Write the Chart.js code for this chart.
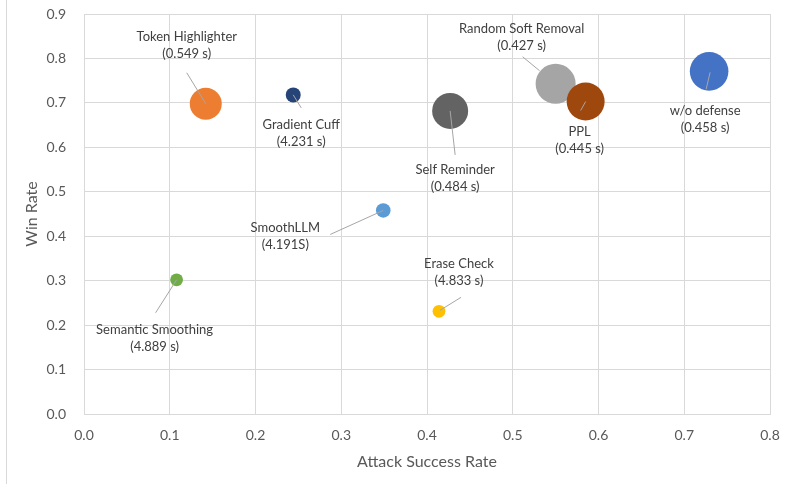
<!DOCTYPE html>
<html>
<head>
<meta charset="utf-8">
<script src="https://cdn.jsdelivr.net/npm/chart.js@4"></script>
<style>
  body { margin: 0; background: #fff; }
  #wrap { width: 785px; height: 484px; }
</style>
</head>
<body>
<div id="wrap"><canvas id="myChart" width="785" height="484"></canvas></div>
<script>
// defenses, drawn in this order (later ones sit on top)
const methods = ["Semantic Smoothing", "SmoothLLM", "Gradient Cuff", "Token Highlighter",
  "Self Reminder", "Random Soft Removal", "PPL", "w/o defense", "Erase Check"];
const times = ["4.889 s", "4.191S", "4.231 s", "0.549 s", "0.484 s", "0.427 s", "0.445 s", "0.458 s", "4.833 s"];
const attackSuccessRate = [0.108, 0.349, 0.244, 0.142, 0.427, 0.550, 0.585, 0.729, 0.414];
const winRate = [0.302, 0.458, 0.718, 0.698, 0.682, 0.743, 0.703, 0.771, 0.231];
const bubbleSize = [6.4, 7.3, 7.5, 16, 18, 20, 19, 19.3, 6.4];
const xTicks = [0, 0.1, 0.2, 0.3, 0.4, 0.5, 0.6, 0.7, 0.8];
const yTicks = [0, 0.1, 0.2, 0.3, 0.4, 0.5, 0.6, 0.7, 0.8, 0.9];

const colors = ["#70AD47", "#5B9BD5", "#264478", "#ED7D31", "#636363", "#A5A5A5", "#9E480E", "#4472C4", "#FFC000"];

// label placement: [label dx, label dy, leader start dx, dy, leader end dx, dy] in px from the bubble centre
const labelPos = [
  [-22, 50, -21, 33, 0, 0],
  [-98, 17, -53, 24, 0, 0],
  [8, 30, 8, 13, 0, 0],
  [-19, -67, -19, -31, 0, 0],
  [5, 59, 5, 44, 0, 0],
  [-34, -55, -33, -27, -16, -13],
  [-6, 30, -5, 9, 0, 0],
  [-4, 39, -3, 18, 1, 1],
  [20, -48, 22, -14, 1, -1],
];

const points = methods.map((m, i) => ({ x: attackSuccessRate[i], y: winRate[i] }));

const frameLine = {
  id: "frameLine",
  beforeDraw(chart) {
    const ctx = chart.ctx;
    ctx.save();
    ctx.fillStyle = "#fff";
    ctx.fillRect(0, 0, chart.width, chart.height);
    ctx.strokeStyle = "#d9d9d9";
    ctx.lineWidth = 1;
    ctx.beginPath();
    ctx.moveTo(6.5, 0);
    ctx.lineTo(6.5, chart.height);
    ctx.stroke();
    ctx.restore();
  },
};

const bubbleLabels = {
  id: "bubbleLabels",
  afterDatasetsDraw(chart) {
    const ctx = chart.ctx;
    const meta = chart.getDatasetMeta(0);
    ctx.save();
    meta.data.forEach((pt, i) => {
      const p = labelPos[i];
      ctx.strokeStyle = "#a6a6a6";
      ctx.lineWidth = 1;
      ctx.beginPath();
      ctx.moveTo(pt.x + p[2], pt.y + p[3]);
      ctx.lineTo(pt.x + p[4], pt.y + p[5]);
      ctx.stroke();

      ctx.fillStyle = "#404040";
      ctx.font = "13px Lato";
      ctx.textAlign = "center";
      ctx.textBaseline = "middle";
      ctx.fillText(methods[i], pt.x + p[0], pt.y + p[1]);
      ctx.fillText("(" + times[i] + ")", pt.x + p[0], pt.y + p[1] + 17);
    });
    ctx.restore();
  },
};

const ctx = document.getElementById("myChart").getContext("2d");
const myChart = new Chart(ctx, {
  type: "line",
  data: {
    datasets: [
      {
        label: "Defenses",
        data: points,
        showLine: false,
        pointRadius: bubbleSize,
        pointHoverRadius: bubbleSize,
        pointBackgroundColor: colors,
        backgroundColor: colors,
        borderWidth: 0,
        pointBorderWidth: 0,
        clip: false,
      },
    ],
  },
  options: {
    responsive: false,
    animation: false,
    layout: { padding: { left: 0, right: 15, top: 14, bottom: 0 } },
    plugins: {
      legend: { display: false },
      tooltip: { enabled: false },
    },
    scales: {
      x: {
        type: "linear",
        min: 0,
        max: 0.8,
        afterBuildTicks: (s) => { s.ticks = xTicks.map((v) => ({ value: v })); },
        afterFit: (s) => { s.height = 70; s.paddingLeft = 0; s.paddingRight = 0; },
        grid: { color: "#d9d9d9", drawTicks: false },
        border: { color: "#d9d9d9" },
        ticks: {
          padding: 13,
          color: "#595959",
          font: { family: "Lato", size: 14 },
          callback: (v) => Number(v).toFixed(1),
        },
        title: {
          display: true,
          text: "Attack Success Rate",
          color: "#595959",
          font: { family: "Lato", size: 16 },
          padding: { top: 0, bottom: 13 },
        },
      },
      y: {
        type: "linear",
        min: 0,
        max: 0.9,
        afterBuildTicks: (s) => { s.ticks = yTicks.map((v) => ({ value: v })); },
        afterFit: (s) => { s.width = 84; s.paddingTop = 0; s.paddingBottom = 0; },
        grid: { color: "#d9d9d9", drawTicks: false },
        border: { color: "#d9d9d9" },
        ticks: {
          padding: 18,
          color: "#595959",
          font: { family: "Lato", size: 14 },
          callback: (v) => Number(v).toFixed(1),
        },
        title: {
          display: true,
          text: "Win Rate",
          color: "#595959",
          font: { family: "Lato", size: 16 },
          padding: { top: 22, bottom: 0 },
        },
      },
    },
  },
  plugins: [frameLine, bubbleLabels],
});
</script>
</body>
</html>
